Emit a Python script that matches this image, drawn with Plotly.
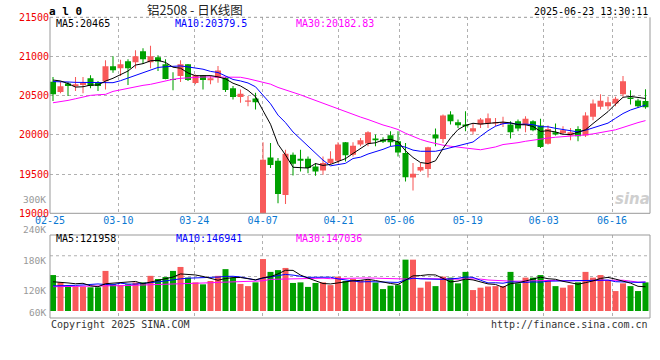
import plotly.graph_objects as go

# ---------------- data ----------------
dates = ["02-25", "02-26", "02-27", "02-28",
         "03-03", "03-04", "03-05", "03-06", "03-07", "03-10", "03-11", "03-12", "03-13", "03-14",
         "03-17", "03-18", "03-19", "03-20", "03-21", "03-24", "03-25", "03-26", "03-27", "03-28", "03-31",
         "04-01", "04-02", "04-03", "04-07", "04-08", "04-09", "04-10", "04-11", "04-14", "04-15", "04-16",
         "04-17", "04-18", "04-21", "04-22", "04-23", "04-24", "04-25", "04-28", "04-29", "04-30",
         "05-06", "05-07", "05-08", "05-09", "05-12", "05-13", "05-14", "05-15", "05-16", "05-19", "05-20",
         "05-21", "05-22", "05-23", "05-26", "05-27", "05-28", "05-29", "05-30",
         "06-03", "06-04", "06-05", "06-06", "06-09", "06-10", "06-11", "06-12", "06-13", "06-16", "06-17",
         "06-18", "06-19", "06-20", "06-23"]

opens = [20679, 20546, 20657, 20619, 20636, 20722, 20666, 20683, 20875, 20850,
         20940, 20927, 21068, 20927, 20991, 20901, 20713, 20752, 20901, 20662,
         20760, 20696, 20730, 20730, 20594, 20482, 20423, 20465, 18990, 19713,
         19670, 19235, 19747, 19696, 19696, 19598, 19547, 19641, 19670, 19905,
         19747, 19876, 19889, 19953, 19940, 19995, 19918, 19769, 19456, 19546,
         19564, 20004, 19948, 20260, 20162, 20132, 20042, 20132, 20145, 20145,
         20141, 20132, 20175, 20132, 20175, 20119, 19888, 20034, 20025, 19991,
         20076, 19991, 20230, 20358, 20367, 20401, 20517, 20478, 20440, 20431]

highs = [20739, 20675, 20675, 20739, 20739, 20760, 20688, 20952, 21004, 20957,
         20965, 21081, 21106, 21136, 21016, 20965, 20800, 20952, 20905, 20770,
         20765, 20760, 20880, 20743, 20623, 20580, 20495, 20538, 19905, 19897,
         19705, 19812, 19777, 19811, 19726, 19641, 19726, 19790, 19905, 19910,
         19905, 19961, 20047, 20004, 19970, 20047, 20047, 19897, 19641, 19641,
         19850, 20081, 20260, 20303, 20196, 20303, 20153, 20217, 20273, 20217,
         20230, 20175, 20196, 20239, 20188, 20205, 20119, 20145, 20111, 20089,
         20111, 20290, 20452, 20517, 20487, 20487, 20752, 20568, 20461, 20581]

lows = [20431, 20530, 20495, 20559, 20530, 20594, 20559, 20580, 20794, 20752,
        20636, 20846, 20905, 20850, 20816, 20709, 20568, 20675, 20688, 20645,
        20580, 20645, 20666, 20546, 20452, 20410, 20367, 20324, 18900, 19577,
        19128, 19120, 19482, 19534, 19512, 19478, 19491, 19619, 19641, 19662,
        19726, 19854, 19854, 19854, 19897, 19854, 19726, 19405, 19290, 19530,
        19456, 19854, 19897, 20132, 20089, 20047, 20004, 20089, 20089, 20111,
        20102, 19953, 20047, 20034, 20047, 19833, 19876, 19991, 20004, 19931,
        19918, 19974, 20188, 20324, 20324, 20367, 20487, 20388, 20345, 20333]

closes = [20517, 20619, 20623, 20645, 20666, 20623, 20623, 20875, 20824, 20901,
          20850, 21004, 20965, 21004, 20935, 20713, 20700, 20901, 20700, 20760,
          20700, 20722, 20820, 20572, 20482, 20525, 20440, 20418, 19683, 19615,
          19247, 19760, 19632, 19670, 19577, 19534, 19641, 19696, 19876, 19739,
          19863, 19931, 20034, 19931, 19914, 19905, 19777, 19461, 19504, 19590,
          19841, 19953, 20247, 20175, 20124, 20111, 20085, 20196, 20213, 20162,
          20162, 20034, 20081, 20205, 20059, 19846, 20076, 20004, 20059, 20034,
          19982, 20247, 20401, 20435, 20418, 20461, 20683, 20457, 20367, 20354]

volumes = [182000, 145000, 126000, 124000, 124000, 120000, 120000, 203000, 135000, 131000,
           135000, 144000, 145000, 178000, 162000, 172000, 203000, 223000, 169000, 145000,
           135000, 152000, 178000, 212000, 169000, 137000, 126000, 145000, 263000, 198000,
           207000, 218000, 142000, 145000, 122000, 142000, 145000, 131000, 174000, 152000,
           162000, 157000, 157000, 144000, 111000, 128000, 131000, 260000, 260000, 118000,
           149000, 126000, 174000, 169000, 140000, 198000, 106000, 118000, 124000, 126000,
           126000, 198000, 140000, 169000, 169000, 182000, 157000, 126000, 118000, 131000,
           145000, 198000, 169000, 182000, 157000, 101000, 140000, 126000, 101000, 145000]

# moving-average values before enough history is visible
ma5_head = [20700, 20688, 20655, 20610]
ma10_head = [20680, 20680, 20675, 20670, 20668, 20666, 20666, 20662, 20666]
ma30_head = [20410, 20423, 20440, 20461, 20487, 20504, 20512, 20517, 20555, 20576,
             20598, 20611, 20632, 20645, 20666, 20692, 20709, 20722, 20730, 20739,
             20739, 20739, 20739, 20735, 20739, 20735, 20717, 20692, 20675]
vma5_head = [148000, 146000, 142000, 138000]
vma10_head = [127000, 127000, 128000, 130000, 132000, 136000, 137000, 134000, 133000]
vma30_head = [123000, 124000, 124000, 125000, 125000, 126000, 126000, 127000, 128000, 128000,
              129000, 130000, 131000, 132000, 134000, 135000, 137000, 139000, 140000, 141000,
              142000, 143000, 145000, 147000, 148000, 149000, 150000, 151000, 153000]

tick_labels = ["02-25", "03-10", "03-24", "04-07", "04-21", "05-06", "05-19", "06-03", "06-16"]
price_ticks = [19000, 19500, 20000, 20500, 21000, 21500]
vol_labels = ["300K", "240K", "180K", "120K", "60K"]

price_legend = ["MA5:20465", "MA10:20379.5", "MA30:20182.83"]
vol_legend = ["MA5:121958", "MA10:146941", "MA30:147036"]
title_text = "铝2508 - 日K线图"
symbol_text = "a l 0"
time_text = "2025-06-23 13:30:11"

# ---------------- helpers ----------------
def sma(vals, w, head):
    out = list(head)
    for i in range(len(head), len(vals)):
        out.append(sum(vals[i - w + 1:i + 1]) / w)
    return out

n = len(dates)
xs = list(range(n))
ma5 = sma(closes, 5, ma5_head)
ma10 = sma(closes, 10, ma10_head)
ma30 = sma(closes, 30, ma30_head)
vma5 = sma(volumes, 5, vma5_head)
vma10 = sma(volumes, 10, vma10_head)
vma30 = sma(volumes, 30, vma30_head)

RED = "#F85A5A"
GREEN = "#00A000"
BLUE = "#0000FF"
MAG = "#FF00FF"
GRID = "#b0b0b0"
FRAME = "#999999"
MONO = "DejaVu Sans Mono"

colors = [RED if c >= o else GREEN for o, c in zip(opens, closes)]

W, H = 660, 360
L, R = 50, 650
def px(x):
    return (x - L) / (R - L)
def py(y):
    return 1 - y / H

fig = go.Figure()

# wicks
fig.add_trace(go.Bar(x=xs, y=[h - l for h, l in zip(highs, lows)], base=lows, width=0.14,
                     marker=dict(color=colors, line_width=0), xaxis="x", yaxis="y",
                     hoverinfo="skip"))
# bodies
fig.add_trace(go.Bar(x=xs, y=[max(abs(c - o), 13) for o, c in zip(opens, closes)],
                     base=[min(o, c) for o, c in zip(opens, closes)], width=0.8,
                     marker=dict(color=colors, line_width=0), xaxis="x", yaxis="y",
                     hoverinfo="skip"))
for vals, col in ((ma30, MAG), (ma10, BLUE), (ma5, "#000000")):
    fig.add_trace(go.Scatter(x=xs, y=vals, mode="lines", line=dict(color=col, width=1),
                             xaxis="x", yaxis="y", hoverinfo="skip"))

# volume
fig.add_trace(go.Bar(x=xs, y=volumes, width=0.8, marker=dict(color=colors, line_width=0),
                     xaxis="x2", yaxis="y2", hoverinfo="skip"))
for vals, col in ((vma30, MAG), (vma10, BLUE), (vma5, "#000000")):
    fig.add_trace(go.Scatter(x=xs, y=vals, mode="lines", line=dict(color=col, width=1),
                             xaxis="x2", yaxis="y2", hoverinfo="skip"))

tick_pos = [dates.index(t) * n / (n - 1) - 0.4 for t in tick_labels]
xr = [-0.4, n - 0.4]

price_dom = [py(213.3), py(17.3)]
vol_dom = [py(318), py(235)]
vol_px_per_unit = 0.1975 / 1000
vol_range = [-(318 - 311) / vol_px_per_unit, (311 - 235) / vol_px_per_unit]

axis_common = dict(showgrid=True, gridcolor=GRID, griddash="dot", gridwidth=1,
                   zeroline=False, showline=False, ticks="", automargin=False, fixedrange=True)

fig.update_layout(
    width=W, height=H,
    margin=dict(l=L, r=W - R, t=0, b=0),
    paper_bgcolor="white", plot_bgcolor="white",
    showlegend=False, barmode="overlay", hovermode=False,
    font=dict(family=MONO, size=10, color="#000"),
    xaxis=dict(domain=[0, 1], range=xr, anchor="y", tickmode="array", tickvals=tick_pos,
               ticktext=tick_labels, tickfont=dict(color="#0A78D2", size=10, family=MONO),
               **axis_common),
    yaxis=dict(domain=price_dom, range=[price_ticks[0], price_ticks[-1]], anchor="x",
               tickmode="array", tickvals=price_ticks, ticktext=[str(v) for v in price_ticks],
               tickfont=dict(color="#F00000", size=10, family=MONO), **axis_common),
    xaxis2=dict(domain=[0, 1], range=xr, anchor="y2", tickmode="array", tickvals=tick_pos,
                showticklabels=False, **axis_common),
    yaxis2=dict(domain=vol_dom, range=vol_range, anchor="x2", showticklabels=False,
                zeroline=False, showgrid=False, ticks="", automargin=False, fixedrange=True),
)

shapes = []
# price frame
shapes += [
    dict(type="line", xref="x domain", yref="y domain", x0=0, x1=0, y0=0, y1=1, line=dict(color=FRAME, width=1)),
    dict(type="line", xref="x domain", yref="y domain", x0=0, x1=1, y0=0, y1=0, line=dict(color=FRAME, width=1)),
    dict(type="line", xref="x domain", yref="y domain", x0=1, x1=1, y0=0, y1=1, line=dict(color=FRAME, width=1)),
    dict(type="line", xref="x domain", yref="y domain", x0=0, x1=1, y0=1, y1=1, line=dict(color=FRAME, width=1, dash="dot")),
]
# volume frame & quarter grid
shapes.append(dict(type="rect", xref="x2 domain", yref="y2 domain", x0=0, x1=1, y0=0, y1=1,
                   line=dict(color=FRAME, width=1)))
for q in (0.25, 0.5, 0.75):
    shapes.append(dict(type="line", xref="x2 domain", yref="y2 domain", x0=0, x1=1, y0=q, y1=q,
                       line=dict(color=GRID, width=1, dash="dot"), layer="below"))
fig.update_layout(shapes=shapes)

ann = []
def text(t, x, y, anchor="left", color="#000", size=10, family=MONO, bold=False, italic=False):
    s = t
    if bold:
        s = "<b>" + s + "</b>"
    if italic:
        s = "<i>" + s + "</i>"
    ann.append(dict(text=s, x=px(x), y=py(y), xref="paper", yref="paper", xanchor=anchor,
                    yanchor="middle", showarrow=False, borderpad=0,
                    font=dict(color=color, size=size, family=family)))

text(symbol_text, 48, 12, bold=True, size=11)
text(title_text, 195, 9.5, anchor="center", size=12.5, family="Noto Sans CJK SC", color="#222")
text(time_text, 649, 11, anchor="right")
for t, x0, col in zip(price_legend, (55, 174, 295), ("#000", BLUE, MAG)):
    text(t, x0, 24, color=col)
for t, x0, col in zip(vol_legend, (55, 175, 295), ("#000", BLUE, MAG)):
    text(t, x0, 238.5, color=col)
for t, y0 in zip(vol_labels, (199, 230, 260, 290, 312)):
    text(t, 47, y0, anchor="right", color="#999999", size=9.5)
text("Copyright 2025 SINA.COM", 50, 324, color="#333")
text("http://finance.sina.com.cn", 649, 324, anchor="right", color="#333")
text("sina", 632, 199, anchor="center", color="#cfcfcf", size=15, family="DejaVu Sans", bold=True, italic=True)
fig.update_layout(annotations=ann)

fig.write_html("out.html", config={"displayModeBar": False, "staticPlot": True},
               post_script="document.body.style.margin='0';document.body.style.overflow='hidden';")
